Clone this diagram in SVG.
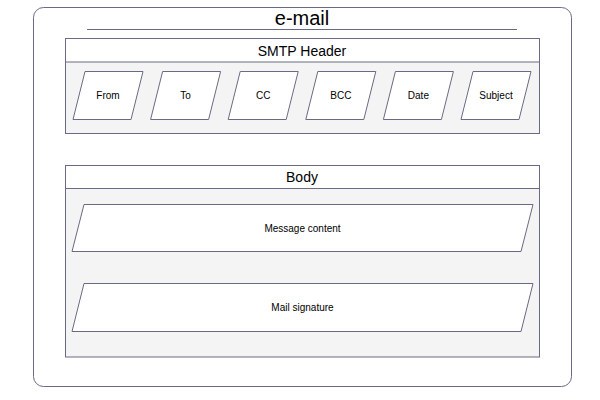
<svg xmlns="http://www.w3.org/2000/svg" width="600" height="400" viewBox="0 0 600 400">
<style>
.ln{fill:none;stroke:#6a6a85;stroke-width:1}
.hd{fill:#ffffff;stroke:#6a6a85;stroke-width:1}
.bd{fill:#f4f4f4;stroke:#6a6a85;stroke-width:1}
.pg{fill:#ffffff;stroke:#6a6a85;stroke-width:1}
.t{font-family:"Liberation Sans",Arial,sans-serif;fill:#000;text-anchor:middle;dominant-baseline:central}
.s{font-size:10px}
.m{font-size:14px}
.l{font-size:20px}
</style>
<rect width="600" height="400" fill="#ffffff"/>
<g id="email">
<rect x="33.5" y="7.5" width="538" height="379" rx="10" class="ln"/>
<text x="302" y="18" class="t l">e-mail</text>
<line x1="87" y1="29.5" x2="517" y2="29.5" class="ln"/>
</g>
<g id="smtp-header">
<rect x="65.5" y="38.5" width="474" height="95" class="bd"/>
<rect x="65.5" y="38.5" width="474" height="23.5" class="hd"/>
<text x="302" y="50.5" class="t m">SMTP Header</text>
</g>
<g id="from"><polygon points="85,71.5 143,71.5 131,119.5 73,119.5" class="pg"/><text x="108" y="95.5" class="t s">From</text></g>
<g id="to"><polygon points="162.6,71.5 220.6,71.5 208.6,119.5 150.6,119.5" class="pg"/><text x="185.6" y="95.5" class="t s">To</text></g>
<g id="cc"><polygon points="240.2,71.5 298.2,71.5 286.2,119.5 228.2,119.5" class="pg"/><text x="263.2" y="95.5" class="t s">CC</text></g>
<g id="bcc"><polygon points="317.8,71.5 375.8,71.5 363.8,119.5 305.8,119.5" class="pg"/><text x="340.8" y="95.5" class="t s">BCC</text></g>
<g id="date"><polygon points="395.4,71.5 453.4,71.5 441.4,119.5 383.4,119.5" class="pg"/><text x="418.4" y="95.5" class="t s">Date</text></g>
<g id="subject"><polygon points="473,71.5 531,71.5 519,119.5 461,119.5" class="pg"/><text x="496" y="95.5" class="t s">Subject</text></g>
<g id="body">
<rect x="65.5" y="165.5" width="474" height="191.5" class="bd"/>
<rect x="65.5" y="165.5" width="474" height="23" class="hd"/>
<text x="302" y="177" class="t m">Body</text>
</g>
<g id="message-content"><polygon points="84,204.5 533,204.5 521,251.5 72,251.5" class="pg"/><text x="302.5" y="228" class="t s">Message content</text></g>
<g id="mail-signature"><polygon points="84,283.5 533,283.5 521,331.5 72,331.5" class="pg"/><text x="302.5" y="307.5" class="t s">Mail signature</text></g>
<g id="connectors"></g>
</svg>
